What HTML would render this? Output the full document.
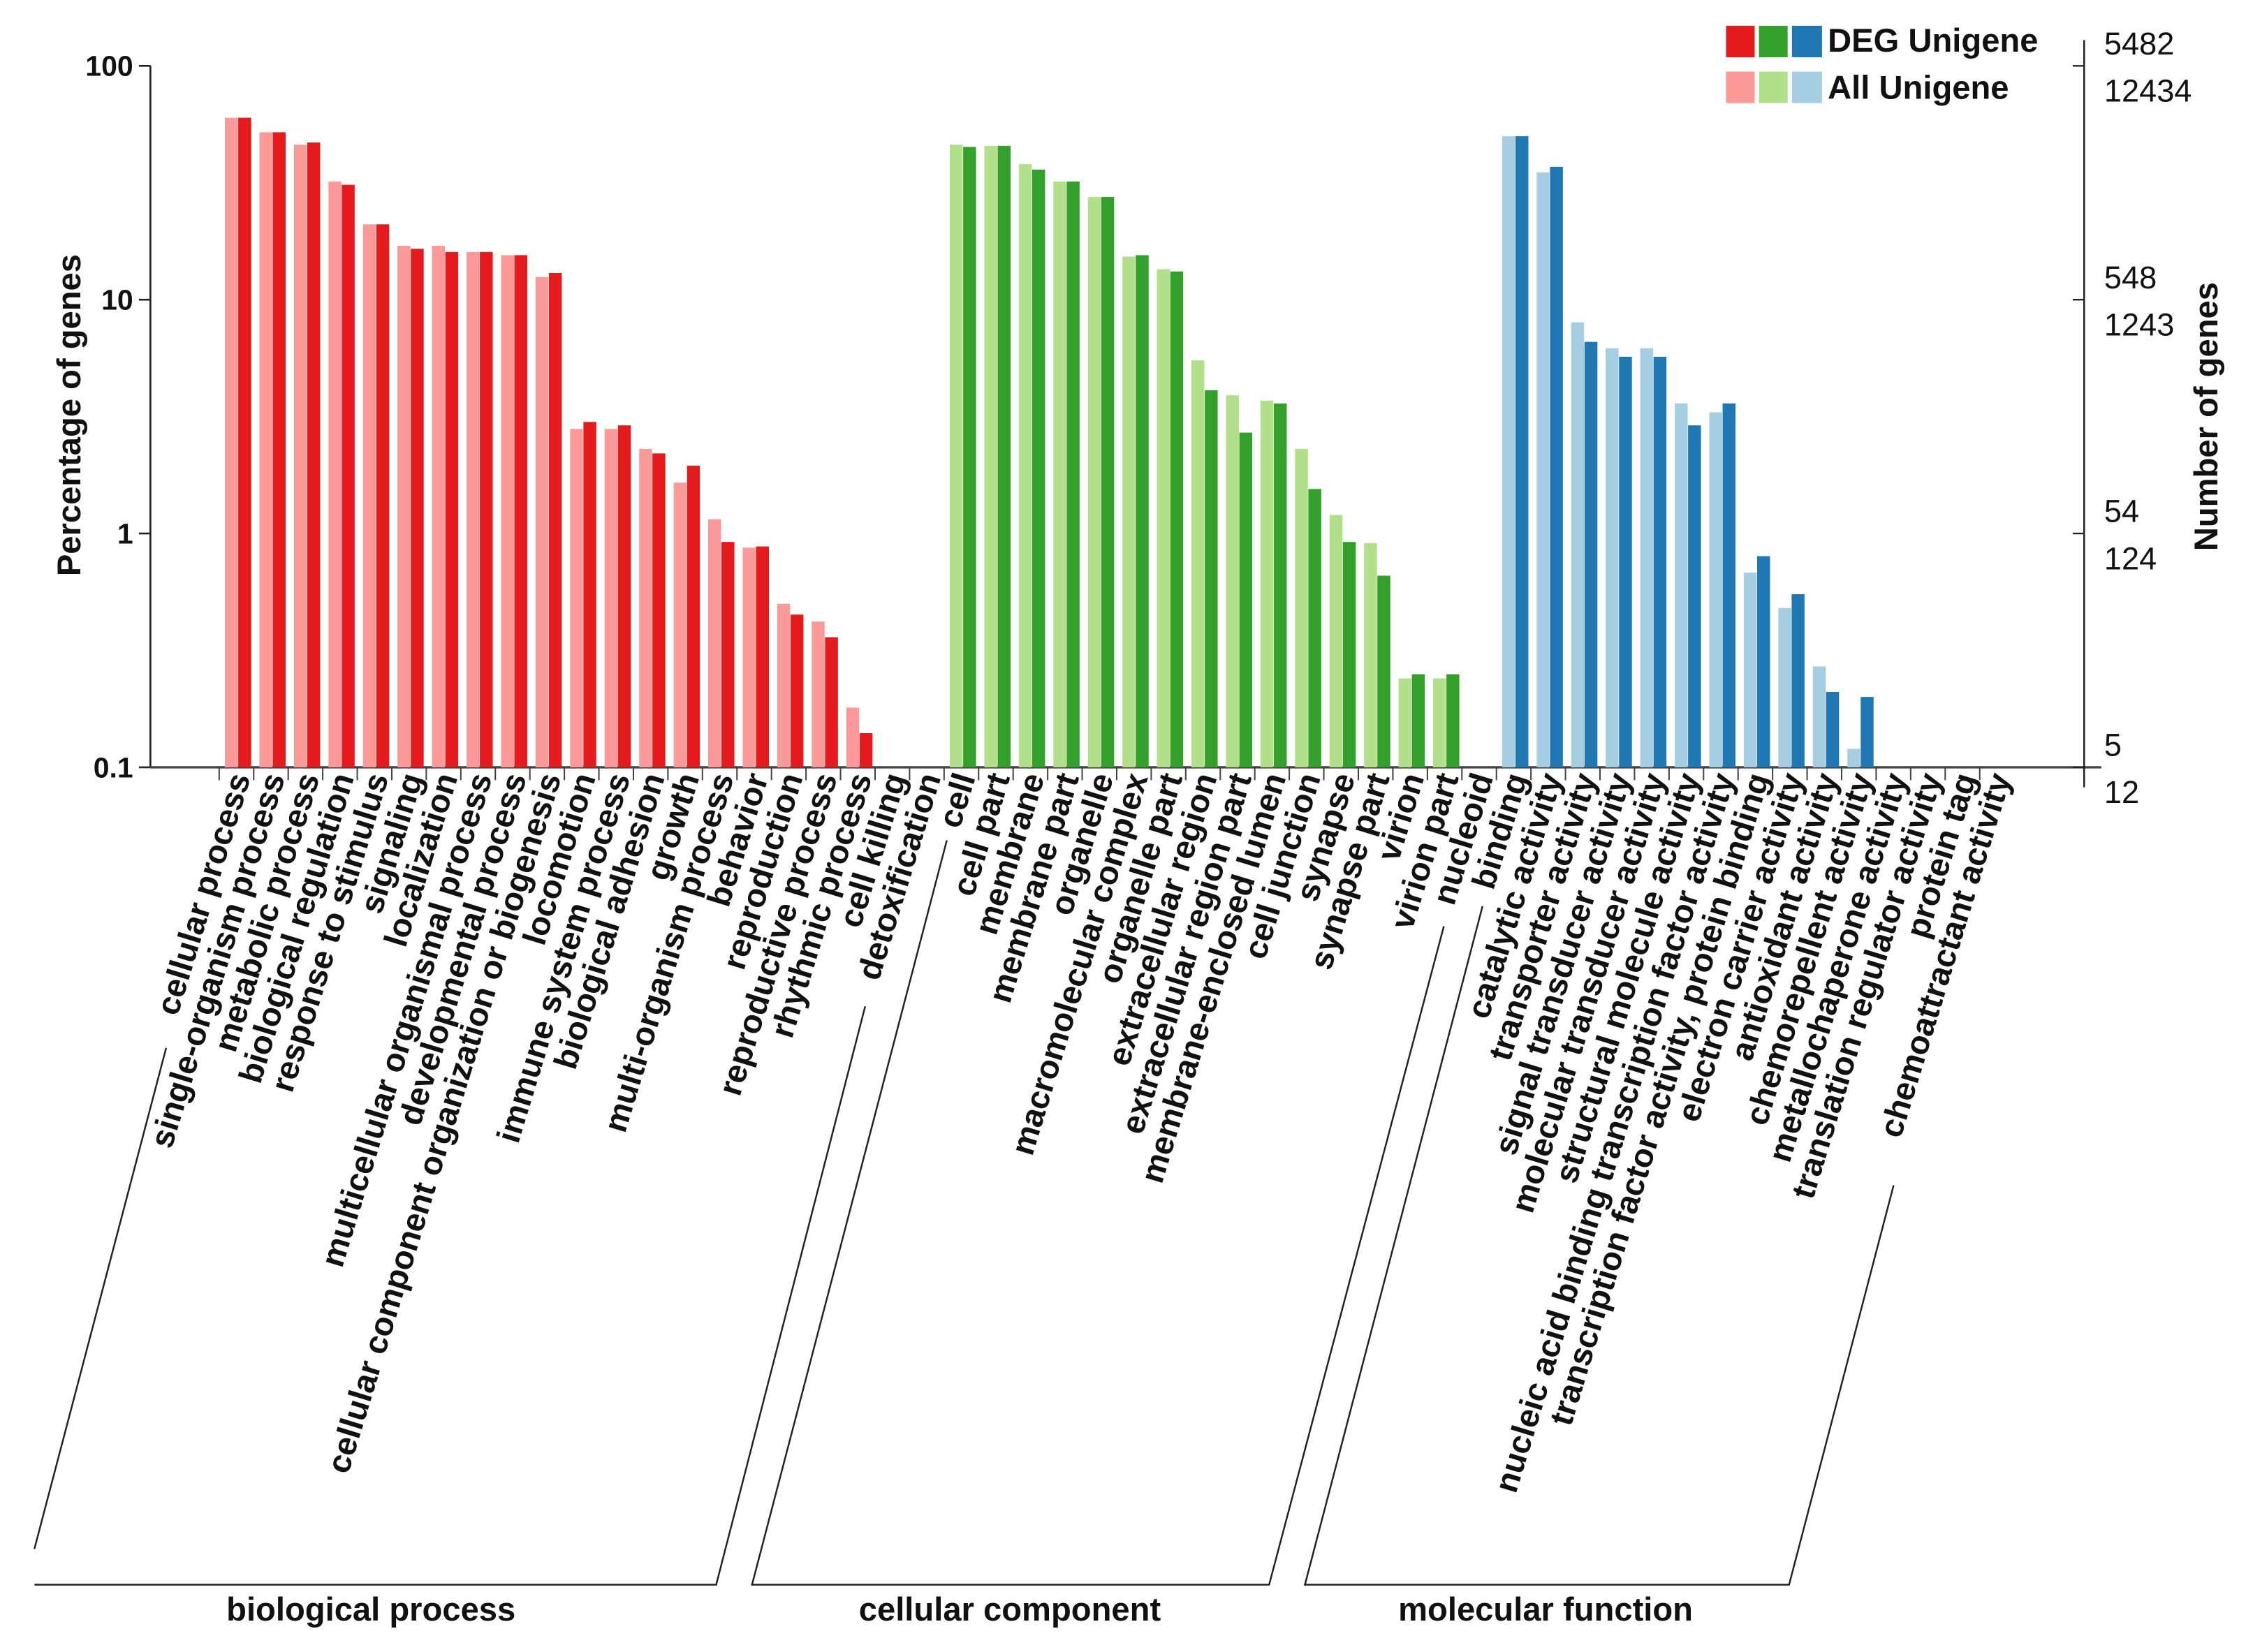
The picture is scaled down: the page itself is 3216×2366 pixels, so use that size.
<!DOCTYPE html>
<html><head><meta charset="utf-8"><style>
html,body{margin:0;padding:0;background:#fff;}
svg{display:block;font-family:"Liberation Sans",Arial,sans-serif;}
</style></head><body>
<svg id="chart" width="3216" height="2366" viewBox="0 0 1568 1154" preserveAspectRatio="none" xmlns="http://www.w3.org/2000/svg">
<rect x="0" y="0" width="1568" height="1154" fill="#fff"/>
<g id="axes"></g>
<g id="bars"></g>
<g id="xlabels"></g>
<g stroke="#222" stroke-width="1.2" fill="none">
<polyline points="116,732 24,1082"/>
<polyline points="24,1107 500,1107 604,703"/>
<polyline points="661,587 525,1107 886,1107 1008,647"/>
<polyline points="1035,633 911,1107 1249,1107 1322,828"/>
</g>
<g font-weight="bold" font-size="23" text-anchor="middle" fill="#111">
<text x="259" y="1132">biological process</text>
<text x="705" y="1132">cellular component</text>
<text x="1079" y="1132">molecular function</text>
</g>
<text transform="translate(56,290) rotate(-90)" text-anchor="middle" font-weight="bold" font-size="23" fill="#111">Percentage of genes</text>
<text transform="translate(1548,291) rotate(-90)" text-anchor="middle" font-weight="bold" font-size="23" fill="#111">Number of genes</text>
<g>
<rect x="1205" y="18" width="20" height="22" fill="#e41a1c"/>
<rect x="1228" y="18" width="20" height="22" fill="#33a02c"/>
<rect x="1251" y="18" width="21" height="22" fill="#1f78b4"/>
<rect x="1205" y="50" width="20" height="22" fill="#fb9a99"/>
<rect x="1228" y="50" width="20" height="22" fill="#b2df8a"/>
<rect x="1251" y="50" width="21" height="22" fill="#a6cee3"/>
<text x="1276" y="36" font-weight="bold" font-size="23" fill="#111">DEG Unigene</text>
<text x="1276" y="69" font-weight="bold" font-size="23" fill="#111">All Unigene</text>
</g>
</svg>
<script>
const categories = ["cellular process","single-organism process","metabolic process","biological regulation","response to stimulus","signaling","localization","multicellular organismal process","developmental process","cellular component organization or biogenesis","locomotion","immune system process","biological adhesion","growth","multi-organism process","behavior","reproduction","reproductive process","rhythmic process","cell killing","detoxification",
"cell","cell part","membrane","membrane part","organelle","macromolecular complex","organelle part","extracellular region","extracellular region part","membrane-enclosed lumen","cell junction","synapse","synapse part","virion","virion part","nucleoid",
"binding","catalytic activity","transporter activity","signal transducer activity","molecular transducer activity","structural molecule activity","nucleic acid binding transcription factor activity","transcription factor activity, protein binding","electron carrier activity","antioxidant activity","chemorepellent activity","metallochaperone activity","translation regulator activity","protein tag","chemoattractant activity"];
const groups = ["bp","bp","bp","bp","bp","bp","bp","bp","bp","bp","bp","bp","bp","bp","bp","bp","bp","bp","bp","bp","bp",
"cc","cc","cc","cc","cc","cc","cc","cc","cc","cc","cc","cc","cc","cc","cc","cc",
"mf","mf","mf","mf","mf","mf","mf","mf","mf","mf","mf","mf","mf","mf","mf"];
const allUnigene = [60,52,46,32,21,17,17,16,15.5,12.5,2.8,2.8,2.3,1.65,1.15,0.87,0.5,0.42,0.18,0,0,
46,45.5,38,32,27.5,15.3,13.5,5.5,3.9,3.7,2.3,1.2,0.91,0.24,0.24,0,
50,35,8,6.2,6.2,3.6,3.3,0.68,0.48,0.27,0.12,0,0,0,0];
const degUnigene = [60,52,47,31,21,16.5,16,16,15.5,13,3.0,2.9,2.2,1.95,0.92,0.88,0.45,0.36,0.14,0,0,
45,45.5,36,32,27.5,15.5,13.2,4.1,2.7,3.6,1.55,0.92,0.66,0.25,0.25,0,
50,37,6.6,5.7,5.7,2.9,3.6,0.8,0.55,0.21,0.2,0,0,0,0];
const leftTicks = [100,10,1,0.1];
const leftTickLabels = ["100","10","1","0.1"];
const rightTickDeg = ["5482","548","54","5"];
const rightTickAll = ["12434","1243","124","12"];

const NS="http://www.w3.org/2000/svg";
const colorsDeg={bp:"#e41a1c",cc:"#33a02c",mf:"#1f78b4"};
const colorsAll={bp:"#fb9a99",cc:"#b2df8a",mf:"#a6cee3"};
const yTop=46, yBot=536, xL=105, xR=1455;
function y(v){
  const lv=Math.log10(Math.max(v,0.1));
  return yBot-(lv+1)/3*(yBot-yTop);
}
function x(i){ return 157+24.1*i; }
function mk(tag,attrs,parent){const e=document.createElementNS(NS,tag);for(const k in attrs)e.setAttribute(k,attrs[k]);parent.appendChild(e);return e;}
const axes=document.getElementById('axes'),bars=document.getElementById('bars'),xl=document.getElementById('xlabels');
let e;
e=mk('line',{x1:xL,y1:yTop,x2:xL,y2:yBot,stroke:'#222','stroke-width':1.3},axes);


e=mk('line',{x1:xL,y1:yBot,x2:1467,y2:yBot,stroke:'#444','stroke-width':1.6},axes);


e=mk('line',{x1:xR,y1:28,x2:xR,y2:550,stroke:'#222','stroke-width':1.2},axes);


leftTicks.forEach((t,k)=>{
  const yy=y(t);
  e=mk('line',{x1:xL-8,y1:yy,x2:xL,y2:yy,stroke:'#222','stroke-width':1.3},axes);
  
  
  e=mk('text',{x:xL-12,y:yy+7,'text-anchor':'end','font-size':20,'font-weight':'bold',fill:'#111'},axes);
  e.textContent=leftTickLabels[k];
  
  
  e=mk('line',{x1:xR-8,y1:yy,x2:xR,y2:yy,stroke:'#222','stroke-width':1.2},axes);
  
  
  e=mk('text',{x:xR+14,y:yy-8,'font-size':22,fill:'#111'},axes);
  e.textContent=rightTickDeg[k];
  
  
  e=mk('text',{x:xR+14,y:yy+25,'font-size':22,fill:'#111'},axes);
  e.textContent=rightTickAll[k];
  
  
});
categories.forEach((c,i)=>{
  const g=groups[i], bx=x(i);
  if(allUnigene[i]>0.1){
    e=mk('rect',{x:bx,y:y(allUnigene[i]),width:9,height:yBot-y(allUnigene[i]),fill:colorsAll[g]},bars);
    
    
  }
  if(degUnigene[i]>0.1){
    e=mk('rect',{x:bx+9.3,y:y(degUnigene[i]),width:9,height:yBot-y(degUnigene[i]),fill:colorsDeg[g]},bars);
    
    
  }
  e=mk('line',{x1:bx-4,y1:yBot,x2:bx-4,y2:yBot+9,stroke:'#444','stroke-width':1},xl);
  
  
  const tx=bx+18, ty=yBot+7;
  e=mk('text',{x:tx,y:ty,'text-anchor':'end','font-size':23,'font-weight':'bold',fill:'#111',transform:`rotate(-73 ${tx} ${ty})`},xl);
  e.textContent=c;
  
  
});
</script>
</body></html>
